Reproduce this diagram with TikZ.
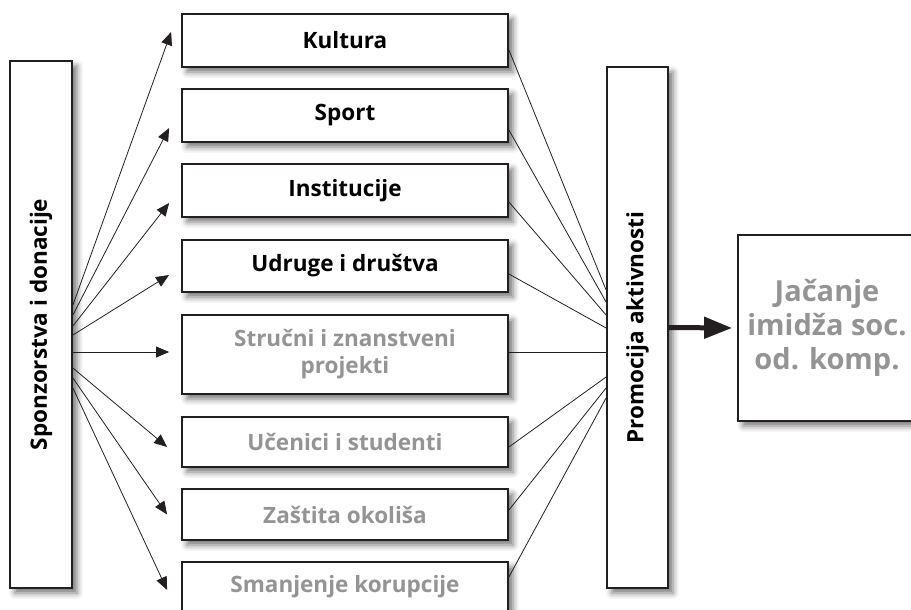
\documentclass[tikz,border=0pt]{standalone}
\usepackage{fontspec}
\setmainfont{Open Sans}
\usepackage{graphicx}
\usepackage{tikz}
\usetikzlibrary{arrows.meta, shadows.blur}
\definecolor{frameink}{RGB}{35, 31, 32}
\definecolor{mutedink}{RGB}{148, 148, 148}

\begin{document}
\begin{tikzpicture}[x=1pt, y=-1pt,
  box/.style={draw=frameink, line width=1.8pt, fill=white, inner sep=0pt, align=center,
    font=\fontsize{22.5}{27}\selectfont\bfseries,
    blur shadow={shadow xshift=5pt, shadow yshift=-5pt, shadow blur radius=6pt, shadow opacity=55}},
  muted/.style={text=mutedink},
  fan/.style={draw=frameink, line width=0.8pt, -{Triangle[length=13pt, width=11pt]}},
  link/.style={draw=frameink, line width=0.8pt}]
  \useasboundingbox (0,0) rectangle (911,610);
  \node[box, minimum width=62pt, minimum height=527pt] (spon) at (41,324.5) {\rotatebox{90}{Sponzorstva i donacije}};
  \node[box, minimum width=326pt, minimum height=53pt] (kult) at (345,40.5) {Kultura};
  \node[box, minimum width=326pt, minimum height=53pt] (sport) at (345,115.5) {Sport};
  \node[box, minimum width=326pt, minimum height=53pt] (inst) at (345,190.5) {Institucije};
  \node[box, minimum width=326pt, minimum height=52pt] (udru) at (345,266) {Udruge i društva};
  \node[box, muted, minimum width=326pt, minimum height=79pt] (proj) at (345,354.5) {Stručni i znanstveni\\projekti};
  \node[box, muted, minimum width=326pt, minimum height=50pt] (ucen) at (345,442) {Učenici i studenti};
  \node[box, muted, minimum width=326pt, minimum height=51pt] (okol) at (345,514.5) {Zaštita okoliša};
  \node[box, muted, minimum width=326pt, minimum height=50pt] (koru) at (345,587) {Smanjenje korupcije};
  \node[box, minimum width=61pt, minimum height=521pt] (prom) at (637.5,327.5) {\rotatebox{90}{Promocija aktivnosti}};
  \node[box, muted, minimum width=178pt, minimum height=186pt, font=\fontsize{29}{34}\selectfont\bfseries] (imid) at (827,328) {Jačanje\\imidža soc.\\od. komp.};

  \draw[fan] ([yshift=19.5pt]spon.east) -- ([xshift=-10pt, yshift=8.5pt]kult.west);
  \draw[fan] ([yshift=9.5pt]spon.east) -- ([xshift=-12pt, yshift=-12.5pt]sport.west);
  \draw[fan] ([yshift=-1.5pt]spon.east) -- ([xshift=-12pt, yshift=-12.5pt]inst.west);
  \draw[fan] ([yshift=-10.5pt]spon.east) -- ([xshift=-12pt, yshift=-9pt]udru.west);
  \draw[fan] ([yshift=-27.5pt]spon.east) -- ([xshift=-12pt, yshift=2.5pt]proj.west);
  \draw[fan] ([yshift=-43.5pt]spon.east) -- ([xshift=-14pt, yshift=-5pt]ucen.west);
  \draw[fan] ([yshift=-53.5pt]spon.east) -- ([xshift=-14pt]okol.west);
  \draw[fan] ([yshift=-63.5pt]spon.east) -- ([xshift=-14pt, yshift=-3pt]koru.west);

  \draw[link] ([yshift=-9.5pt]kult.east) -- ([yshift=37.5pt]prom.west);
  \draw[link] ([yshift=-14.5pt]sport.east) -- ([yshift=25.5pt]prom.west);
  \draw[link] ([yshift=-11.5pt]inst.east) -- ([yshift=12.5pt]prom.west);
  \draw[link] ([yshift=-8pt]udru.east) -- ([yshift=-0.5pt]prom.west);
  \draw[link] ([yshift=2.5pt]proj.east) -- ([yshift=-24.5pt]prom.west);
  \draw[link] ([yshift=-5pt]ucen.east) -- ([yshift=-49.5pt]prom.west);
  \draw[link] ([yshift=4.5pt]okol.east) -- ([yshift=-60.5pt]prom.west);
  \draw[link] ([yshift=10pt]koru.east) -- ([yshift=-70.5pt]prom.west);

  \draw[frameink, line width=5pt, -{Triangle[length=28pt, width=21pt]}] (prom.east) -- ([xshift=-5pt]imid.west);
\end{tikzpicture}
\end{document}
